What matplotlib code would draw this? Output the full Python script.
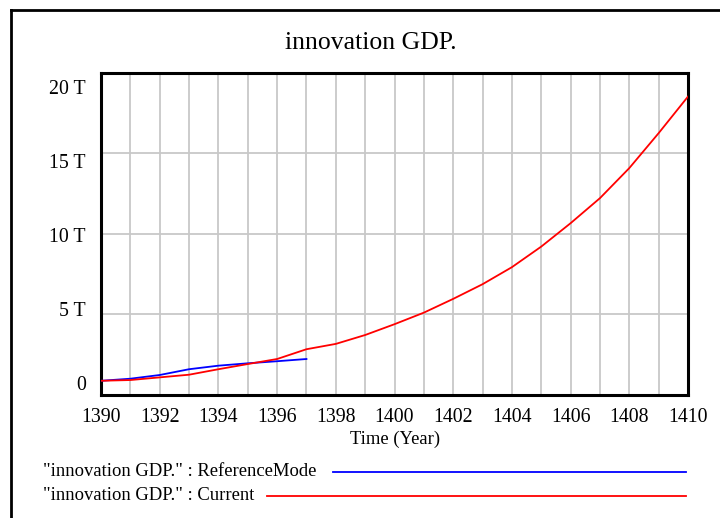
import numpy as np
import matplotlib
matplotlib.use("Agg")
import matplotlib.pyplot as plt
from matplotlib.lines import Line2D

plt.rcParams["font.family"] = ["Liberation Serif", "DejaVu Serif"]

# data, in T (10^12)
years_ref = [1390, 1391, 1392, 1393, 1394, 1395, 1396, 1397]
gdp_ref = [0.15, 0.29, 0.54, 0.93, 1.17, 1.33, 1.47, 1.62]

years_cur = list(range(1390, 1411))
gdp_cur = [0.15, 0.20, 0.38, 0.56, 0.93, 1.28, 1.62, 2.28, 2.64, 3.24, 3.97,
           4.75, 5.68, 6.67, 7.82, 9.21, 10.79, 12.48, 14.51, 16.87, 19.34]

ytick_vals = [0, 5, 10, 15, 20]
ytick_labels = ["0", "5 T", "10 T", "15 T", "20 T"]
xtick_vals = list(range(1390, 1411, 2))

W, H = 720, 518
fig = plt.figure(figsize=(W / 100, H / 100), dpi=100)
ax = fig.add_axes([101 / W, 1 - 395 / H, (688 - 101) / W, (395 - 72.7) / H])

ax.plot(years_ref, gdp_ref, color="#0000ff", lw=1.3, zorder=3)
ax.plot(years_cur, gdp_cur, color="#ff0000", lw=1.3, zorder=3)

ymin, ymax = -0.81, 20.95
ax.set_xlim(1390, 1410)
ax.set_ylim(ymin, ymax)

ax.set_xticks(xtick_vals)
ax.set_xticks(range(1390, 1411), minor=True)
ax.set_yticks(ytick_vals)
ax.set_yticklabels(ytick_labels)
ax.set_yticks(np.linspace(ymin, ymax, 5)[1:-1], minor=True)
ax.tick_params(which="both", length=0, labelsize=14.3)
ax.tick_params(axis="x", pad=9)
ax.tick_params(axis="y", pad=11)

ax.grid(False)
ax.grid(True, axis="x", which="both", color="#c8c8c8", lw=1.3)
ax.grid(True, axis="y", which="minor", color="#c8c8c8", lw=1.3)
for s in ax.spines.values():
    s.set_linewidth(2.2)
    s.set_color("black")

fig.text(371 / W, 1 - 43 / H, "innovation GDP.", ha="center", va="center", fontsize=18.5)
fig.text(395 / W, 1 - 439 / H, "Time (Year)", ha="center", va="center", fontsize=13.4)

# legend
fig.text(43 / W, 1 - 472 / H, '"innovation GDP." : ReferenceMode', ha="left", va="center", fontsize=13.4)
fig.text(43 / W, 1 - 496 / H, '"innovation GDP." : Current', ha="left", va="center", fontsize=13.4)
fig.add_artist(Line2D([333 / W, 686 / W], [1 - 472 / H, 1 - 472 / H], color="#0000ff", lw=1.3))
fig.add_artist(Line2D([267 / W, 686 / W], [1 - 496 / H, 1 - 496 / H], color="#ff0000", lw=1.3))

# outer frame
fig.add_artist(Line2D([11 / W, 11 / W], [0, 1 - 10 / H], color="black", lw=2))
fig.add_artist(Line2D([11 / W, 1], [1 - 10 / H, 1 - 10 / H], color="black", lw=2))

fig.savefig("out.png", dpi=100)
